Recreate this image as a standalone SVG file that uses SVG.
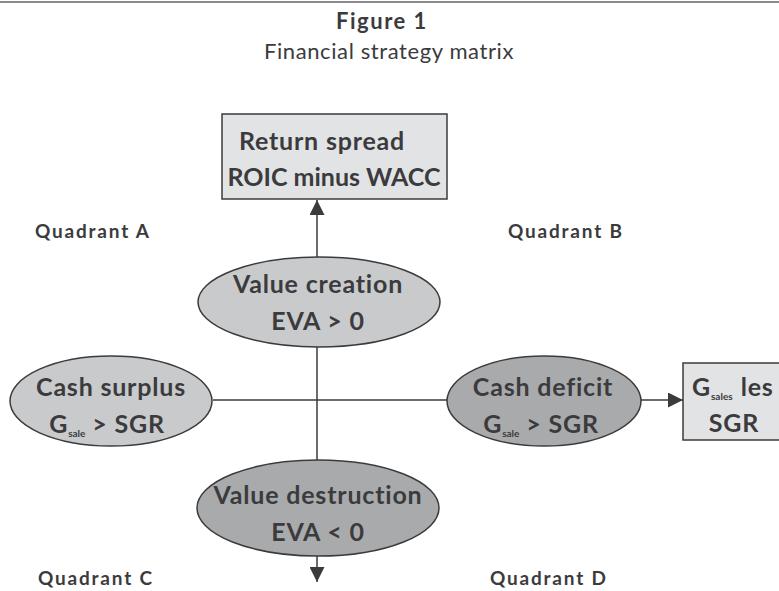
<svg xmlns="http://www.w3.org/2000/svg" width="779" height="591" viewBox="0 0 779 591">
<defs>
<style>
text{font-family:Lato,"Open Sans","Liberation Sans",sans-serif;fill:#3b3b3d;text-anchor:middle;font-weight:bold}
.title{font-size:22px;letter-spacing:1.5px}
.sub{font-size:22px;font-weight:normal;letter-spacing:0.6px}
.quad{font-size:19px;text-anchor:start;letter-spacing:1.8px}
.lbl{font-size:25px;letter-spacing:0.8px}
.sub2{font-size:10px;letter-spacing:0}
.light{fill:#c9cacc;stroke:#3b3b3d;stroke-width:1.5}
.dark{fill:#a9aaac;stroke:#3b3b3d;stroke-width:1.5}
.box{fill:#e2e3e5;stroke:#3b3b3d;stroke-width:1.5}
.con{stroke:#3b3b3d;stroke-width:1.5;fill:none}
</style>
<marker id="arrL" viewBox="0 0 10 10" refX="10" refY="5" markerWidth="15" markerHeight="15" markerUnits="userSpaceOnUse" orient="auto">
<path d="M0,0 L10,5 L0,10 z" fill="#3b3b3d"/>
</marker>
</defs>
<line x1="0" y1="2" x2="779" y2="2" stroke="#8a8a8c" stroke-width="2"/>
<text class="title" x="382" y="29">Figure 1</text>
<text class="sub" x="389" y="59">Financial strategy matrix</text>
<g id="connectors">
<line class="con" x1="317" y1="257" x2="317" y2="200" marker-end="url(#arrL)"/>
<line class="con" x1="317" y1="347" x2="317" y2="460"/>
<line class="con" x1="213" y1="400" x2="448" y2="400"/>
<line class="con" x1="640" y1="400" x2="683" y2="400" marker-end="url(#arrL)"/>
<line class="con" x1="317" y1="556" x2="317" y2="582" marker-end="url(#arrL)"/>
</g>
<g id="return-spread">
<rect class="box" x="222" y="114" width="225" height="85"/>
<text class="lbl" x="322" y="150">Return spread</text>
<text class="lbl" x="334" y="186" style="letter-spacing:0">ROIC minus WACC</text>
</g>
<g id="quadA"><text class="quad" x="35" y="238">Quadrant A</text></g>
<g id="quadB"><text class="quad" x="508" y="238">Quadrant B</text></g>
<g id="value-creation">
<ellipse class="light" cx="319" cy="302" rx="121" ry="45"/>
<text class="lbl" x="318" y="293">Value creation</text>
<text class="lbl" x="318" y="330">EVA &gt; 0</text>
</g>
<g id="cash-surplus">
<ellipse class="light" cx="111" cy="401" rx="101" ry="45"/>
<text class="lbl" x="111" y="396">Cash surplus</text>
<text class="lbl" x="107" y="433">G<tspan class="sub2" dy="4">sale</tspan><tspan dy="-4"> &gt; SGR</tspan></text>
</g>
<g id="cash-deficit">
<ellipse class="dark" cx="544" cy="401" rx="97" ry="45"/>
<text class="lbl" x="543" y="396">Cash deficit</text>
<text class="lbl" x="541" y="433">G<tspan class="sub2" dy="4">sale</tspan><tspan dy="-4"> &gt; SGR</tspan></text>
</g>
<g id="sales-box">
<rect class="box" x="683" y="363" width="110" height="77"/>
<text class="lbl" x="692" y="396" style="text-anchor:start">G<tspan class="sub2" dy="4">sales</tspan><tspan dy="-4" dx="8">les</tspan></text>
<text class="lbl" x="734" y="432">SGR</text>
</g>
<g id="value-destruction">
<ellipse class="dark" cx="318" cy="508" rx="121" ry="48"/>
<text class="lbl" x="318" y="504">Value destruction</text>
<text class="lbl" x="318" y="541">EVA &lt; 0</text>
</g>
<g id="quadC"><text class="quad" x="38" y="585">Quadrant C</text></g>
<g id="quadD"><text class="quad" x="490" y="585">Quadrant D</text></g>
</svg>
